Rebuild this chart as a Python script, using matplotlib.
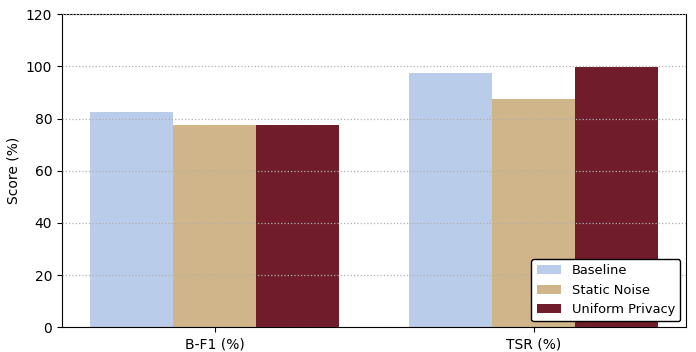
import numpy as np
import matplotlib
matplotlib.use('Agg')
import matplotlib.pyplot as plt

metrics = ['B-F1 (%)', 'TSR (%)']
methods = ['Baseline', 'Static Noise', 'Uniform Privacy']
baseline = [82.4, 97.3]
static_noise = [77.7, 87.3]
uniform_privacy = [77.5, 99.6]
colors = ['#b9cce9', '#cfb589', '#711c2b']

x = np.arange(len(metrics))
width = 0.26

fig, ax = plt.subplots(figsize=(6.96, 3.52), dpi=100)
series = [baseline, static_noise, uniform_privacy]
for i, (name, vals) in enumerate(zip(methods, series)):
    ax.bar(x + (i - 1) * width, vals, width, label=name, color=colors[i])

ax.set_ylim(0, 120)
ax.set_xticks(x)
ax.set_xticklabels(metrics)
ax.set_ylabel('Score (%)')
# grid sits on top of the bars, like the original
ax.set_axisbelow(False)
ax.grid(axis='y', linestyle=':', color='#b0b0b0', linewidth=0.9)
leg = ax.legend(loc='lower right', framealpha=1, edgecolor='black',
                fontsize=9.4, handlelength=1.9, borderaxespad=0.45)
leg.get_frame().set_linewidth(1.0)

plt.subplots_adjust(left=0.089, right=0.986, top=0.96, bottom=0.07)
plt.savefig('out.png', dpi=100)
